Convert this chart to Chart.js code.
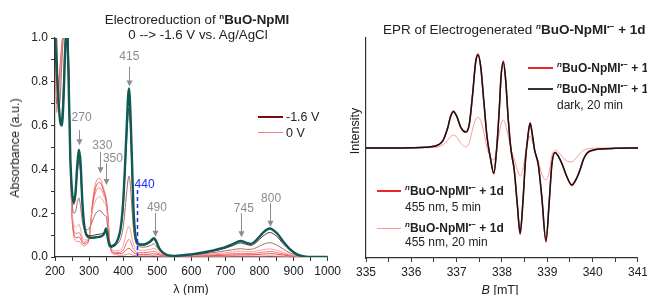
<!DOCTYPE html>
<html>
<head>
<meta charset="utf-8">
<script src="https://cdn.jsdelivr.net/npm/chart.js@4"></script>
<style>
body{margin:0;width:647px;height:295px;overflow:hidden;background:#fff;position:relative;font-family:"Liberation Sans",Arial,sans-serif;color:#222}
#left{position:absolute;left:0;top:0;width:344px;height:295px}
#right{position:absolute;left:340px;top:0;width:311px;height:295px}
.t{position:absolute;white-space:nowrap;font-size:12px;line-height:14px}
.c{transform:translate(-50%,-50%)}
.m{transform:translateY(-50%)}
.ln{position:absolute}
sup{font-size:8px;vertical-align:0;position:relative;top:-5px}
</style>
</head>
<body>
<div id="left"><canvas id="uv"></canvas></div>
<div id="right"><canvas id="epr"></canvas></div>

<div class="t c" style="left:197px;top:21px;font-size:13.3px">Electroreduction of <b><sup>n</sup>BuO-NpMI</b></div>
<div class="t c" style="left:198px;top:35px;font-size:13.3px">0 --&gt; -1.6 V vs. Ag/AgCl</div>
<div class="t c" style="left:15px;top:148px;font-size:12.5px;transform:translate(-50%,-50%) rotate(-90deg)">Absorbance (a.u.)</div>
<div class="t c" style="left:191px;top:289px;font-size:12.5px">λ (nm)</div>

<div class="ln" style="left:258px;top:116px;width:25px;height:1.5px;background:#7a0c0c"></div>
<div class="t m" style="left:286px;top:117px;font-size:12.5px">-1.6 V</div>
<div class="ln" style="left:258px;top:132px;width:25px;height:1px;background:#f08080"></div>
<div class="t m" style="left:286px;top:133px;font-size:12.5px">0 V</div>

<div class="t m" style="left:383px;top:31px;font-size:13.5px">EPR of Electrogenerated <b><sup><i>n</i></sup>BuO-NpMI<sup>•−</sup> + 1d</b></div>
<div class="t c" style="left:355px;top:131px;font-size:12.5px;transform:translate(-50%,-50%) rotate(-90deg)">Intensity</div>
<div class="t c" style="left:500px;top:290px;font-size:12.5px"><i>B</i> [mT]</div>

<div class="ln" style="left:528px;top:67px;width:25px;height:1.5px;background:#e8262c"></div>
<div class="t m" style="left:557px;top:69px"><b><sup><i>n</i></sup>BuO-NpMI<sup>•−</sup> + 1d</b></div>
<div class="ln" style="left:528px;top:88px;width:25px;height:1.5px;background:#333"></div>
<div class="t m" style="left:557px;top:90px"><b><sup><i>n</i></sup>BuO-NpMI<sup>•−</sup> + 1d</b></div>
<div class="t m" style="left:557px;top:105px">dark, 20 min</div>

<div class="ln" style="left:377px;top:190px;width:24px;height:1.5px;background:#e8262c"></div>
<div class="t m" style="left:405px;top:192px"><b><sup><i>n</i></sup>BuO-NpMI<sup>•−</sup> + 1d</b></div>
<div class="t m" style="left:405px;top:207px">455 nm, 5 min</div>
<div class="ln" style="left:377px;top:228px;width:24px;height:1px;background:#f79a9a"></div>
<div class="t m" style="left:405px;top:229px"><b><sup><i>n</i></sup>BuO-NpMI<sup>•−</sup> + 1d</b></div>
<div class="t m" style="left:405px;top:242px">455 nm, 20 min</div>

<script>
// UV-vis spectra, wavelength grid (nm)
const wl = [200,205,210,215,220,225,230,235,240,245,
  250,255,260,265,270,275,280,285,290,300,
  310,320,330,335,340,345,350,355,360,365,
  370,380,390,395,400,405,410,417,422,426,
  430,435,440,450,460,470,480,490,497,505,
  515,530,550,600,650,700,720,745,760,775,
  790,810,830,850,870,890,910,930,960,1000];

// 0 V
const abs0 = [1.1,0.66,0.76,0.88,0.97,1.05,1.15,1.15,0.9,0.45,
  0.18,0.1,0.075,0.07,0.072,0.065,0.055,0.05,0.055,0.08,
  0.25,0.34,0.36,0.35,0.325,0.3,0.27,0.2,0.07,0.025,
  0.015,0.01,0.008,0.008,0.008,0.01,0.012,0.015,0.012,0.01,
  0.008,0.006,0.005,0.005,0.005,0.005,0.005,0.006,0.005,0.004,
  0.003,0.003,0.003,0.003,0.003,0.003,0.004,0.004,0.004,0.004,
  0.004,0.004,0.005,0.004,0.003,0.002,0.002,0.001,0.001,0.001];
const abs1 = [1.1,0.7,0.74,0.86,0.96,1.05,1.15,1.15,0.9,0.45,
  0.19,0.11,0.09,0.088,0.092,0.083,0.066,0.06,0.062,0.085,
  0.24,0.32,0.34,0.335,0.315,0.29,0.26,0.19,0.072,0.03,
  0.02,0.016,0.015,0.016,0.019,0.026,0.034,0.04,0.035,0.028,
  0.021,0.016,0.014,0.012,0.012,0.012,0.013,0.015,0.013,0.01,
  0.007,0.005,0.004,0.004,0.006,0.008,0.009,0.01,0.01,0.01,
  0.011,0.013,0.015,0.013,0.009,0.005,0.003,0.002,0.001,0.001];
const abs2 = [1.1,0.74,0.72,0.84,0.95,1.05,1.15,1.15,0.9,0.45,
  0.2,0.125,0.108,0.108,0.112,0.1,0.076,0.067,0.07,0.092,
  0.23,0.3,0.315,0.31,0.295,0.275,0.25,0.18,0.074,0.035,
  0.025,0.021,0.021,0.024,0.031,0.046,0.066,0.08,0.07,0.052,
  0.036,0.027,0.022,0.02,0.02,0.021,0.023,0.026,0.022,0.015,
  0.01,0.006,0.005,0.006,0.009,0.013,0.015,0.017,0.016,0.016,
  0.018,0.022,0.025,0.021,0.014,0.008,0.004,0.002,0.001,0.001];
const abs3 = [1.1,0.78,0.7,0.8,0.93,1.03,1.13,1.15,0.9,0.45,
  0.22,0.15,0.135,0.14,0.15,0.127,0.09,0.078,0.078,0.1,
  0.21,0.26,0.275,0.27,0.26,0.245,0.23,0.165,0.075,0.042,
  0.032,0.028,0.03,0.036,0.052,0.082,0.115,0.14,0.12,0.087,
  0.06,0.043,0.035,0.031,0.031,0.032,0.035,0.04,0.034,0.022,
  0.013,0.007,0.005,0.007,0.012,0.019,0.023,0.027,0.025,0.024,
  0.027,0.033,0.037,0.031,0.021,0.011,0.005,0.002,0.001,0.001];
const abs4 = [1.15,0.88,0.68,0.72,0.88,1.02,1.12,1.15,0.88,0.45,
  0.26,0.2,0.205,0.245,0.27,0.23,0.165,0.132,0.125,0.13,
  0.165,0.2,0.212,0.21,0.2,0.19,0.185,0.13,0.072,0.052,
  0.048,0.055,0.075,0.095,0.135,0.205,0.29,0.37,0.31,0.215,
  0.13,0.078,0.056,0.046,0.045,0.047,0.052,0.06,0.05,0.032,
  0.018,0.008,0.005,0.009,0.017,0.028,0.033,0.038,0.035,0.035,
  0.042,0.057,0.065,0.055,0.036,0.018,0.007,0.002,0.001,0.001];
const abs5 = [1.2,1.0,0.74,0.62,0.64,0.8,1.0,1.1,0.85,0.45,
  0.3,0.24,0.275,0.375,0.445,0.385,0.235,0.15,0.115,0.098,
  0.098,0.102,0.104,0.105,0.108,0.115,0.13,0.088,0.06,0.053,
  0.055,0.068,0.105,0.15,0.23,0.37,0.53,0.68,0.56,0.38,
  0.2,0.1,0.064,0.054,0.054,0.058,0.067,0.079,0.066,0.039,
  0.02,0.008,0.005,0.011,0.023,0.04,0.051,0.064,0.058,0.053,
  0.066,0.095,0.112,0.095,0.06,0.03,0.01,0.003,0.001,0];
// -1.6 V end point (thick teal)
const absEnd = [1.0,0.85,0.72,0.62,0.6,0.72,0.95,1.05,0.8,0.45,
  0.3,0.25,0.29,0.41,0.49,0.43,0.26,0.155,0.11,0.09,
  0.088,0.09,0.092,0.094,0.098,0.11,0.13,0.085,0.052,0.047,
  0.05,0.065,0.11,0.16,0.25,0.4,0.58,0.77,0.63,0.43,
  0.23,0.11,0.068,0.057,0.057,0.062,0.072,0.086,0.072,0.042,
  0.022,0.009,0.005,0.012,0.025,0.045,0.058,0.073,0.066,0.06,
  0.076,0.11,0.13,0.11,0.07,0.035,0.012,0.003,0,0];

// EPR, field grid (mT)
const field = [335.0,335.5,336.0,336.3,336.5,336.6,336.7,336.8,336.87,336.93,
  337.0,337.1,337.2,337.28,337.35,337.42,337.47,337.53,337.6,337.67,
  337.74,337.82,337.88,337.94,337.98,338.03,338.08,338.14,338.2,338.27,
  338.34,338.4,338.46,338.52,338.57,338.62,338.67,338.72,338.8,338.88,
  338.97,339.04,339.1,339.17,339.25,339.33,339.42,339.54,339.64,339.72,
  339.8,339.88,340.0,340.2,340.5,341.0];
const eprDark = [0,0,0.002,0.006,0.015,0.03,0.07,0.18,0.29,0.33,
  0.29,0.18,0.145,0.22,0.48,0.78,0.845,0.74,0.42,0.1,
  -0.08,-0.23,-0.02,0.35,0.65,0.78,0.62,0.25,-0.02,-0.2,
  -0.52,-0.775,-0.5,-0.1,0.1,0.225,0.12,-0.02,-0.15,-0.45,
  -0.845,-0.5,-0.15,-0.04,-0.08,-0.15,-0.25,-0.335,-0.28,-0.2,
  -0.1,-0.045,-0.02,-0.008,-0.003,0];
const epr5 = [0,0,0.002,0.006,0.015,0.03,0.07,0.18,0.295,0.337,
  0.29,0.18,0.145,0.22,0.48,0.79,0.855,0.745,0.42,0.1,
  -0.08,-0.235,-0.02,0.35,0.66,0.79,0.625,0.25,-0.02,-0.2,
  -0.53,-0.785,-0.5,-0.1,0.1,0.23,0.12,-0.02,-0.15,-0.46,
  -0.855,-0.5,-0.15,-0.04,-0.08,-0.15,-0.25,-0.34,-0.28,-0.2,
  -0.1,-0.045,-0.02,-0.008,-0.003,0];
const epr20 = [0,0,0,0.002,0.005,0.01,0.03,0.07,0.105,0.118,
  0.1,0.04,0.01,0.05,0.17,0.26,0.28,0.25,0.14,0,
  -0.08,-0.11,-0.01,0.13,0.22,0.255,0.21,0.1,-0.01,-0.1,
  -0.2,-0.255,-0.2,-0.04,0.06,0.11,0.06,-0.02,-0.12,-0.24,
  -0.29,-0.22,-0.07,-0.02,-0.04,-0.08,-0.115,-0.127,-0.09,-0.05,
  -0.02,-0.008,-0.003,0,0,0];

// arrow labels on the UV-vis panel (nm / absorbance)
const notes = [
  {text:'270', x:271, top:0.58, tip:0.51, lx:278, ly:0.635},
  {text:'330', x:332, top:0.48, tip:0.382, lx:339, ly:0.507},
  {text:'350', x:350, top:0.428, tip:0.329, lx:370, ly:0.447},
  {text:'415', x:418, top:0.869, tip:0.778, lx:418, ly:0.913},
  {text:'490', x:492, top:0.2, tip:0.093, lx:499, ly:0.225},
  {text:'745', x:746, top:0.2, tip:0.09, lx:754, ly:0.222},
  {text:'800', x:830, top:0.245, tip:0.138, lx:834, ly:0.268}
];
const marker440 = {text:'440', x:442, top:0.306, lx:463, ly:0.332};

const font = '"Liberation Sans", Arial, sans-serif';

function pts(xs, ys) {
  return xs.map((v, i) => ({x: v, y: ys[i]}));
}

function line(data, color, width) {
  return {
    data: data,
    borderColor: color,
    borderWidth: width,
    pointRadius: 0,
    fill: false,
    cubicInterpolationMode: 'monotone'
  };
}

const notePlugin = {
  id: 'notes',
  afterDatasetsDraw(chart) {
    const ctx = chart.ctx;
    const x = chart.scales.x, y = chart.scales.y;
    ctx.save();
    ctx.font = '12px ' + font;
    ctx.textAlign = 'center';
    ctx.textBaseline = 'middle';
    ctx.strokeStyle = '#8c8c8c';
    ctx.fillStyle = '#8c8c8c';
    ctx.lineWidth = 1;
    notes.forEach(n => {
      const px = Math.round(x.getPixelForValue(n.x)) + 0.5;
      const y0 = y.getPixelForValue(n.top);
      const y1 = y.getPixelForValue(n.tip);
      ctx.beginPath();
      ctx.moveTo(px, y0);
      ctx.lineTo(px, y1 - 5);
      ctx.stroke();
      ctx.beginPath();
      ctx.moveTo(px - 3, y1 - 6);
      ctx.lineTo(px + 3, y1 - 6);
      ctx.lineTo(px, y1);
      ctx.closePath();
      ctx.fill();
      ctx.fillText(n.text, x.getPixelForValue(n.lx), y.getPixelForValue(n.ly));
    });
    // dashed 440 nm marker
    const bx = Math.round(x.getPixelForValue(marker440.x)) + 0.5;
    ctx.strokeStyle = '#1f2bff';
    ctx.fillStyle = '#1f2bff';
    ctx.lineWidth = 1.5;
    ctx.setLineDash([4, 3]);
    ctx.beginPath();
    ctx.moveTo(bx, y.getPixelForValue(marker440.top));
    ctx.lineTo(bx, y.getPixelForValue(0));
    ctx.stroke();
    ctx.setLineDash([]);
    ctx.fillText(marker440.text, x.getPixelForValue(marker440.lx), y.getPixelForValue(marker440.ly));
    ctx.restore();
  }
};

const axisBase = {
  border: {display: true, color: '#333', width: 1.2},
  grid: {display: true, drawOnChartArea: false, drawTicks: true, tickLength: 4, tickColor: '#333'}
};

new Chart(document.getElementById('uv'), {
  type: 'line',
  data: {
    datasets: [
      line(pts(wl, absEnd), '#0f5a55', 2.4),
      line(pts(wl, abs5), '#5e3434', 1),
      line(pts(wl, abs4), '#a86a6a', 1),
      line(pts(wl, abs3), '#f6a0a0', 1),
      line(pts(wl, abs2), '#f27070', 1),
      line(pts(wl, abs1), '#ee4a4a', 1),
      line(pts(wl, abs0), '#f08585', 1)
    ]
  },
  options: {
    responsive: true,
    maintainAspectRatio: false,
    animation: false,
    devicePixelRatio: 1,
    events: [],
    layout: {padding: {top: 38, right: 0, left: 0, bottom: 0}},
    plugins: {legend: {display: false}, tooltip: {enabled: false}},
    scales: {
      x: Object.assign({}, axisBase, {
        type: 'linear', min: 200, max: 1000,
        afterFit: s => { s.height = 38; },
        ticks: {stepSize: 50, autoSkip: false, maxRotation: 0, padding: 3, color: '#222',
          font: {family: font, size: 12},
          callback: v => v % 100 === 0 ? String(v) : ''}
      }),
      y: Object.assign({}, axisBase, {
        min: 0, max: 1,
        afterFit: s => { s.width = 55; },
        ticks: {stepSize: 0.1, autoSkip: false, padding: 3, color: '#222',
          font: {family: font, size: 12},
          callback: v => Math.round(v * 10) % 2 === 0 ? v.toFixed(1) : ''}
      })
    }
  },
  plugins: [notePlugin]
});

new Chart(document.getElementById('epr'), {
  type: 'line',
  data: {
    datasets: [
      line(pts(field, eprDark), '#151515', 1.5),
      line(pts(field, epr5), '#e8262c', 1.5),
      line(pts(field, epr20), '#f79a9a', 1)
    ]
  },
  options: {
    responsive: true,
    maintainAspectRatio: false,
    animation: false,
    devicePixelRatio: 1,
    events: [],
    layout: {padding: {top: 38, right: 0, left: 0, bottom: 0}},
    plugins: {legend: {display: false}, tooltip: {enabled: false}},
    scales: {
      x: Object.assign({}, axisBase, {
        type: 'linear', min: 335, max: 341,
        afterFit: s => { s.height = 37; },
        ticks: {stepSize: 0.5, autoSkip: false, maxRotation: 0, padding: 3, color: '#222',
          font: {family: font, size: 12},
          callback: v => Number.isInteger(v) ? String(v) : ''}
      }),
      y: {
        min: -1, max: 1,
        afterFit: s => { s.width = 26; },
        border: {display: true, color: '#333', width: 1.2},
        grid: {display: false},
        ticks: {display: false}
      }
    }
  }
});
</script>
</body>
</html>
